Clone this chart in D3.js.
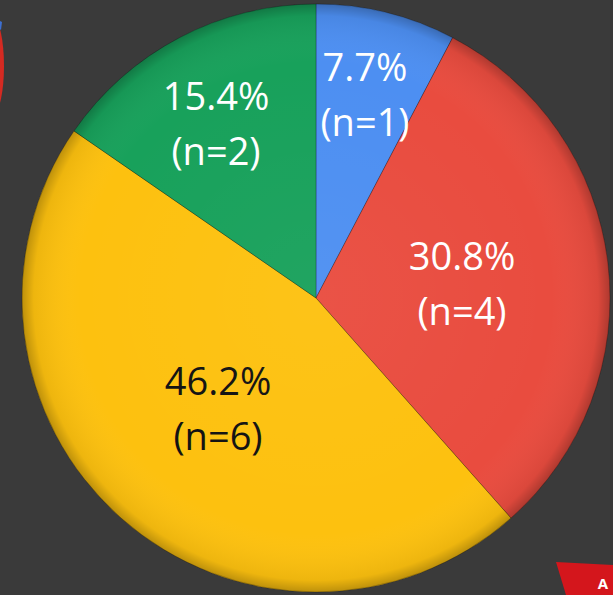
<!DOCTYPE html>
<html>
<head>
<meta charset="utf-8">
<script src="https://cdn.jsdelivr.net/npm/d3@7"></script>
<style>
  html, body { margin: 0; padding: 0; background: #3a3a3a; }
  svg { display: block; }
</style>
</head>
<body>
<svg id="chart"></svg>
<script>
// slice data, clockwise from 12 o'clock
const labels = ["A", "B", "C", "D"];
const counts = [1, 4, 6, 2];
const percents = ["7.7%", "30.8%", "46.2%", "15.4%"];
const colors = ["#4d8ff2", "#e94c3f", "#fdc10f", "#18a15b"];
const textColors = ["#ffffff", "#ffffff", "#111111", "#ffffff"];

const width = 613;
const height = 595;
const cx = 316, cy = 298, radius = 294;

const svg = d3.select("#chart").attr("width", width).attr("height", height);
svg.append("rect").attr("width", width).attr("height", height).attr("fill", "#3a3a3a");

const defs = svg.append("defs");
const shade = defs.append("radialGradient").attr("id", "shade")
    .attr("gradientUnits", "userSpaceOnUse")
    .attr("cx", cx).attr("cy", cy).attr("r", radius);
shade.append("stop").attr("offset", "0%").attr("stop-color", "#fff").attr("stop-opacity", 0.04);
shade.append("stop").attr("offset", "80%").attr("stop-color", "#fff").attr("stop-opacity", 0);
shade.append("stop").attr("offset", "96%").attr("stop-color", "#000").attr("stop-opacity", 0.06);
shade.append("stop").attr("offset", "100%").attr("stop-color", "#000").attr("stop-opacity", 0.25);

// bits of neighbouring slide objects
svg.append("ellipse").attr("cx", -6).attr("cy", 66).attr("rx", 10).attr("ry", 46).attr("fill", "#d42a22");
svg.append("path").attr("d", "M-2,20 L2,22 L1,30 L-2,28 Z").attr("fill", "#3d6fd0");
svg.append("path").attr("d", "M556,562 L613,565 L613,595 L566,595 Z").attr("fill", "#d4161c");
svg.append("text").attr("x", 608).attr("y", 589).attr("text-anchor", "end").attr("fill", "#fff")
    .attr("font-family", "Open Sans, sans-serif").attr("font-weight", 700).attr("font-size", 15).text("A");

const pie = d3.pie().sort(null).value(d => d);
const arcs = pie(counts);
const arc = d3.arc().innerRadius(0).outerRadius(radius);

const g = svg.append("g").attr("transform", `translate(${cx},${cy})`);

g.selectAll("path.slice")
    .data(arcs)
    .enter()
    .append("path")
    .attr("class", "slice")
    .attr("d", arc)
    .attr("fill", (d, i) => colors[i])
    .attr("stroke", "rgba(0,0,0,0.25)")
    .attr("stroke-width", 1);

svg.append("circle").attr("cx", cx).attr("cy", cy).attr("r", radius)
    .attr("fill", "url(#shade)");

// label positions (placed by hand from the reference)
const labelPos = [
    [49, -217],
    [146, -28],
    [-98, 97],
    [-100, -188]
];

const lab = g.selectAll("g.label")
    .data(arcs)
    .enter()
    .append("g")
    .attr("class", "label")
    .attr("transform", (d, i) => `translate(${labelPos[i][0]},${labelPos[i][1]})`)
    .attr("fill", (d, i) => textColors[i])
    .attr("font-family", "Open Sans, sans-serif")
    .attr("font-size", 38)
    .attr("text-anchor", "middle");

lab.append("text").attr("y", 0).text((d, i) => percents[i]);
lab.append("text").attr("y", 55).text((d, i) => "(n=" + counts[i] + ")");
</script>
</body>
</html>
